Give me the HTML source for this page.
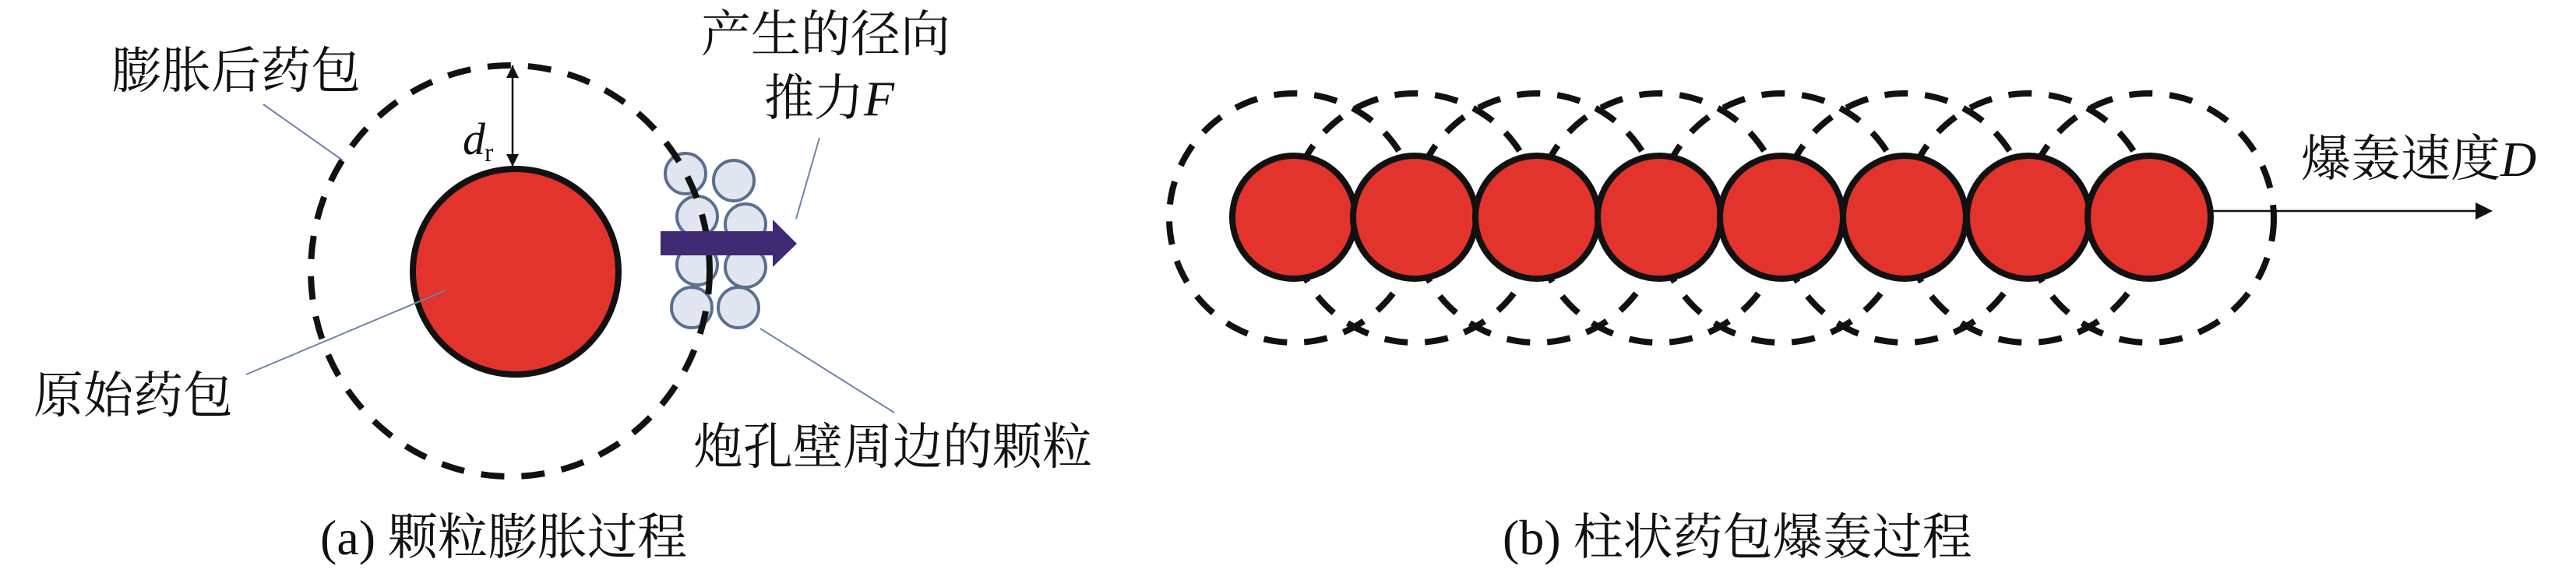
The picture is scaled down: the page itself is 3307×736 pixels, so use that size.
<!DOCTYPE html>
<html><head><meta charset="utf-8"><style>
html,body{margin:0;padding:0;background:#fff;}
svg{display:block}
text{font-family:"Liberation Serif","Noto Serif CJK SC",serif;fill:#111;}
</style></head><body>
<svg width="3307" height="736" viewBox="0 0 3307 736" xmlns="http://www.w3.org/2000/svg">
<!-- Panel a -->
<g fill="#e1e6f0" stroke="#5b6f8e" stroke-width="4">
<circle cx="880" cy="223" r="26"/><circle cx="942" cy="232" r="26"/>
<circle cx="895" cy="278" r="26"/><circle cx="957" cy="288" r="26"/>
<circle cx="895" cy="340" r="26"/><circle cx="957" cy="343" r="26"/>
<circle cx="888" cy="395" r="26"/><circle cx="948" cy="395" r="26"/>
</g>
<ellipse cx="655" cy="348" rx="256" ry="264" fill="none" stroke="#111" stroke-width="8" stroke-dasharray="30 22"/>
<circle cx="662" cy="349" r="132" fill="#e2332c" stroke="#111" stroke-width="8"/>
<line x1="658" y1="84" x2="658" y2="213" stroke="#111" stroke-width="2.5"/>
<path d="M650,100 L658,84 L666,100 z" fill="#111"/>
<path d="M650,198 L658,214 L666,198 z" fill="#111"/>
<text x="594" y="198" font-size="58" font-style="italic">d</text>
<text x="622" y="207" font-size="34">r</text>
<path d="M848,297 L992,297 L992,282 L1023,313 L992,343 L992,328 L848,328 z" fill="#3f2a74"/>
<g stroke="#6f84a6" stroke-width="2" fill="none">
<line x1="338" y1="134" x2="440" y2="206"/>
<line x1="316" y1="481" x2="572" y2="373"/>
<line x1="1052" y1="177" x2="1022" y2="281"/>
<line x1="976" y1="422" x2="1148" y2="530"/>
</g>
<text x="143" y="113" font-size="64">膨胀后药包</text>
<text x="900" y="66" font-size="64">产生的径向</text>
<text x="981" y="148" font-size="64">推力<tspan font-style="italic">F</tspan></text>
<text x="43" y="530" font-size="64">原始药包</text>
<text x="890" y="596" font-size="64">炮孔壁周边的颗粒</text>
<text x="411" y="712" font-size="64">(a) 颗粒膨胀过程</text>
<!-- Panel b -->
<g fill="none" stroke="#111" stroke-width="8" stroke-dasharray="30 22">
<circle cx="1661" cy="280" r="160"/><circle cx="1816" cy="280" r="160"/>
<circle cx="1973" cy="280" r="160"/><circle cx="2130" cy="280" r="160"/>
<circle cx="2287" cy="280" r="160"/><circle cx="2445" cy="280" r="160"/>
<circle cx="2604" cy="280" r="160"/><circle cx="2759" cy="280" r="160"/>
</g>
<g fill="#e2332c" stroke="#111" stroke-width="8">
<circle cx="1661" cy="279" r="79"/><circle cx="1816" cy="279" r="79"/>
<circle cx="1973" cy="279" r="79"/><circle cx="2130" cy="279" r="79"/>
<circle cx="2287" cy="279" r="79"/><circle cx="2445" cy="279" r="79"/>
<circle cx="2604" cy="279" r="79"/><circle cx="2759" cy="279" r="79"/>
</g>
<line x1="2838" y1="271" x2="3185" y2="271" stroke="#111" stroke-width="2.5"/>
<path d="M3178,260 L3200,271 L3178,282 z" fill="#111"/>
<text x="2954" y="226" font-size="64">爆轰速度<tspan font-style="italic">D</tspan></text>
<text x="1929" y="712" font-size="64">(b) 柱状药包爆轰过程</text>
</svg>
</body></html>
